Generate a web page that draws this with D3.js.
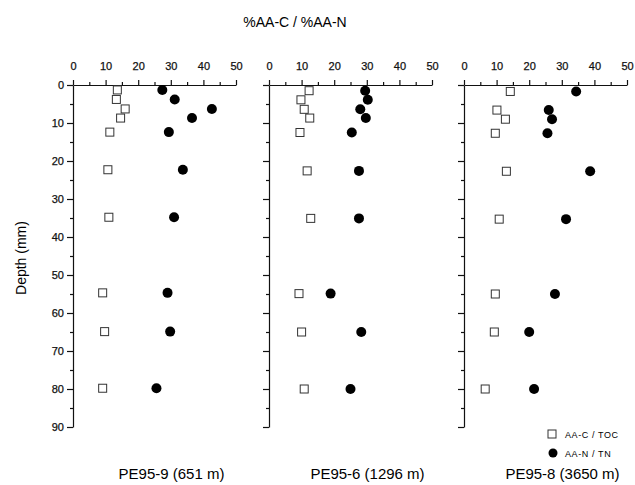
<!DOCTYPE html>
<html>
<head>
<meta charset="utf-8">
<script src="https://cdn.jsdelivr.net/npm/d3@7"></script>
<style>
  body { margin: 0; background: #fff; }
  svg { font-family: "Liberation Sans", Arial, sans-serif; }
  .axis path, .axis line { stroke: #111; stroke-width: 1.2; }
  .axis text { font-size: 11px; fill: #111; stroke: #111; stroke-width: 0.25; }
</style>
</head>
<body>
<div id="chart"></div>
<script>
// cores and depth samples
var cores = ["PE95-9 (651 m)", "PE95-6 (1296 m)", "PE95-8 (3650 m)"];

var depth9 = [1.3, 3.8, 6.3, 8.7, 12.4, 22.3, 34.8, 54.7, 64.9, 79.8];
var aac9 = [13.6, 13.3, 16.0, 14.6, 11.3, 10.7, 11.0, 9.1, 9.7, 9.1];
var aan9 = [27.4, 31.2, 42.6, 36.5, 29.4, 33.7, 31.0, 29.0, 29.8, 25.6];

var depth6 = [1.5, 3.9, 6.4, 8.7, 12.5, 22.6, 35.1, 54.9, 65.0, 80.0];
var aac6 = [12.3, 9.8, 10.8, 12.5, 9.5, 11.7, 12.8, 9.2, 10.0, 10.8];
var aan6 = [29.5, 30.3, 28.0, 29.7, 25.4, 27.6, 27.6, 18.9, 28.3, 25.0];

var depth8 = [1.7, 6.6, 9.0, 12.7, 22.7, 35.3, 55.0, 65.0, 80.0];
var aac8 = [14.2, 10.1, 12.7, 9.6, 13.0, 10.8, 9.6, 9.3, 6.5];
var aan8 = [34.4, 26.0, 27.0, 25.6, 38.7, 31.3, 27.9, 20.0, 21.5];

var xTicks = [0, 10, 20, 30, 40, 50];
var yTicks = [0, 10, 20, 30, 40, 50, 60, 70, 80, 90];

var panels = [
  { name: cores[0], depth: depth9, aac: aac9, aan: aan9, left: 73 },
  { name: cores[1], depth: depth6, aac: aac6, aan: aan6, left: 269 },
  { name: cores[2], depth: depth8, aac: aac8, aan: aan8, left: 464 }
];

var W = 635, H = 485;
var top0 = 85, bottom0 = 427, panelW = 163;

var svg = d3.select("#chart").append("svg")
  .attr("width", W)
  .attr("height", H);

var y = d3.scaleLinear().domain([0, 90]).range([top0, bottom0]);

svg.append("text")
  .attr("x", 295)
  .attr("y", 27)
  .attr("text-anchor", "middle")
  .style("font-size", "14px")
  .text("%AA-C / %AA-N");

svg.append("text")
  .attr("transform", "translate(26,258) rotate(-90)")
  .attr("text-anchor", "middle")
  .style("font-size", "14px")
  .text("Depth (mm)");

panels.forEach(function (p, idx) {
  var x = d3.scaleLinear().domain([0, 50]).range([p.left, p.left + panelW]);
  var g = svg.append("g");

  // top axis: majors labelled, minors at 5s
  g.append("g")
    .attr("class", "axis")
    .attr("transform", "translate(0," + top0 + ")")
    .call(d3.axisTop(x).tickValues(d3.range(5, 50, 10)).tickSize(3).tickFormat(""))
    .call(function (s) { s.select(".domain").remove(); });
  g.append("g")
    .attr("class", "axis")
    .attr("transform", "translate(0," + top0 + ")")
    .call(d3.axisTop(x).tickValues(xTicks).tickSize(5).tickSizeOuter(0).tickPadding(10));

  // left axis
  g.append("g")
    .attr("class", "axis")
    .attr("transform", "translate(" + p.left + ",0)")
    .call(d3.axisLeft(y).tickValues(d3.range(5, 90, 10)).tickSize(3).tickFormat(""))
    .call(function (s) { s.select(".domain").remove(); });
  g.append("g")
    .attr("class", "axis")
    .attr("transform", "translate(" + p.left + ",0)")
    .call(d3.axisLeft(y).tickValues(yTicks).tickSize(6).tickSizeOuter(0).tickPadding(3)
      .tickFormat(idx === 0 ? d3.format("d") : ""));

  var rows = p.depth.map(function (d, i) {
    return { depth: d, aac: p.aac[i], aan: p.aan[i] };
  });

  g.selectAll(".sq")
    .data(rows)
    .enter().append("rect")
    .attr("class", "sq")
    .attr("x", function (d) { return x(d.aac) - 4; })
    .attr("y", function (d) { return y(d.depth) - 4; })
    .attr("width", 8)
    .attr("height", 8)
    .style("fill", "#fff")
    .style("stroke", "#333")
    .style("stroke-width", 1);

  g.selectAll(".dot")
    .data(rows)
    .enter().append("circle")
    .attr("class", "dot")
    .attr("cx", function (d) { return x(d.aan); })
    .attr("cy", function (d) { return y(d.depth); })
    .attr("r", 5)
    .style("fill", "#000");

  g.append("text")
    .attr("x", p.left + panelW / 2 + 17)
    .attr("y", 479)
    .attr("text-anchor", "middle")
    .style("font-size", "15px")
    .text(p.name);
});

// legend
var legend = svg.append("g");
legend.append("rect")
  .attr("x", 548).attr("y", 430).attr("width", 8).attr("height", 8)
  .style("fill", "#fff").style("stroke", "#333");
legend.append("text")
  .attr("x", 565).attr("y", 437.5)
  .style("font-size", "9px").style("letter-spacing", "0.6px")
  .text("AA-C / TOC");
legend.append("circle")
  .attr("cx", 553).attr("cy", 453).attr("r", 4.5)
  .style("fill", "#000");
legend.append("text")
  .attr("x", 565).attr("y", 456.5)
  .style("font-size", "9px").style("letter-spacing", "0.6px")
  .text("AA-N / TN");
</script>
</body>
</html>
